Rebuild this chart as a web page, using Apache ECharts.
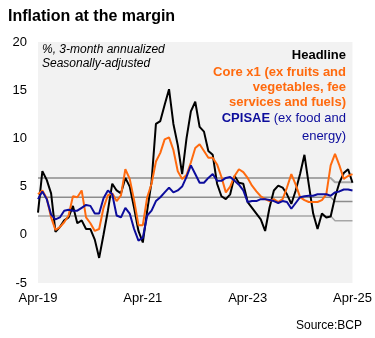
<!DOCTYPE html>
<html>
<head>
<meta charset="utf-8">
<script src="https://cdn.jsdelivr.net/npm/echarts@6/dist/echarts.min.js"></script>
<style>
html,body{margin:0;padding:0;background:#fff;}
#chart{width:375px;height:338px;}
</style>
</head>
<body>
<div id="chart"></div>
<script>
// Monthly, Apr-19 .. Apr-25
const monthNames = ["Jan","Feb","Mar","Apr","May","Jun","Jul","Aug","Sep","Oct","Nov","Dec"];
const categories = [];
for (let k = 0; k < 73; k++) {
  const m = (3 + k) % 12;
  const y = 19 + Math.floor((3 + k) / 12);
  categories.push(monthNames[m] + "-" + y);
}
const tickLabels = ["Apr-19", "Apr-21", "Apr-23", "Apr-25"];
const yTicks = [-5, 0, 5, 10, 15, 20];

const headline = [2.3,6.6,5.7,4.3,0.3,0.8,1.5,1.8,3.0,1.2,1.5,0.6,0.6,-0.5,-2.4,0.0,2.5,5.3,4.6,4.3,
  5.9,5.0,2.8,0.4,-0.8,2.5,5.5,11.5,11.8,13.5,15.1,11.5,9.3,6.3,10.0,12.8,13.8,11.2,10.7,8.7,
  8.3,5.3,4.0,3.7,4.2,6.1,5.4,5.3,3.4,2.8,2.2,1.6,0.4,2.8,4.6,5.1,4.9,4.2,3.2,4.6,
  6.3,8.3,5.2,2.2,0.6,2.2,1.8,1.9,3.9,5.4,6.4,6.8,5.4];
const coreX1 = [4.2,4.6,3.8,1.8,0.5,0.8,1.3,2.0,4.0,3.9,4.6,1.8,1.2,0.4,0.6,2.8,4.1,4.3,3.5,4.1,
  6.8,5.8,3.6,1.0,1.0,3.9,5.3,7.6,8.5,9.9,10.1,8.8,6.6,5.8,6.2,7.5,9.0,9.4,8.7,8.0,
  8.0,7.3,6.0,4.4,5.0,6.1,6.8,6.5,5.9,5.1,4.5,4.0,3.7,3.5,3.7,3.4,3.7,4.9,6.3,5.2,
  3.9,3.6,3.4,3.4,3.4,3.6,4.2,7.2,8.4,7.2,5.8,6.1,6.3];
const cpisae = [3.7,4.5,3.7,2.1,1.6,1.8,2.5,2.6,2.5,2.5,2.8,3.1,3.0,2.2,2.2,3.8,4.6,4.2,2.0,1.8,
  2.8,2.2,0.6,-0.6,-0.3,2.0,2.5,3.5,3.9,4.4,4.9,4.4,4.6,5.0,6.0,7.2,6.3,5.4,5.4,5.9,
  6.3,5.6,5.6,5.9,6.0,5.6,5.2,4.6,3.4,3.5,3.5,3.7,3.7,3.6,3.5,3.3,3.5,3.4,2.7,3.3,
  3.9,4.0,4.05,4.05,4.2,4.2,4.2,4.05,4.4,4.5,4.7,4.7,4.6];
// reference band lines (upper / middle / lower), level change late 2024
const bandUpperLevels = [5.9, 5.45];
const bandMidLevels = [3.9, 3.45];
const bandLowerLevels = [1.95, 1.45];
const bandChangeIndex = 68;

function band(levels) {
  return categories.map((c, k) => k < bandChangeIndex ? levels[0] : levels[1]);
}

const chart = echarts.init(document.getElementById('chart'), null, {renderer: 'canvas'});
const FONT = '"Liberation Sans", Arial, sans-serif';
const ORANGE = '#ff6a0e';
const BLUE = '#0d0d9c';

function lineSeries(name, data, color, width, z) {
  return {
    name, type: 'line', data, symbol: 'none', smooth: false, z,
    lineStyle: {color, width}, itemStyle: {color}, silent: true, animation: false
  };
}

const legendLines = [
  {text: 'Headline', color: '#000', top: 49},
  {text: 'Core x1 (ex fruits and', color: ORANGE, top: 65.5},
  {text: 'vegetables, fee', color: ORANGE, top: 80.5},
  {text: 'services and fuels)', color: ORANGE, top: 95.5}
];

const graphics = [
  {type: 'text', left: 8, top: 9, style: {text: 'Inflation at the margin', font: 'bold 16px ' + FONT, fill: '#000'}},
  {type: 'text', left: 42, top: 43, style: {text: '%, 3-month annualized\nSeasonally-adjusted', font: 'italic 12px ' + FONT, fill: '#000', lineHeight: 14}},
  {type: 'text', right: 13, top: 320, style: {text: 'Source:BCP', font: '12px ' + FONT, fill: '#000'}},
  {type: 'text', right: 29, top: 112, style: {
    text: '{b|CPISAE} {r|(ex food and}',
    rich: {
      b: {fontFamily: FONT, fontWeight: 'bold', fontSize: 13, fill: BLUE},
      r: {fontFamily: FONT, fontWeight: 'normal', fontSize: 13, fill: BLUE}
    },
    font: '13px ' + FONT, fill: BLUE
  }},
  {type: 'text', right: 29, top: 130, style: {text: 'energy)', font: '13px ' + FONT, fill: BLUE}}
];
legendLines.forEach(l => graphics.push({
  type: 'text', right: 29, top: l.top,
  style: {text: l.text, font: 'bold 13px ' + FONT, fill: l.color}
}));

chart.setOption({
  animation: false,
  backgroundColor: '#ffffff',
  textStyle: {fontFamily: FONT},
  grid: {left: 38, right: 21, top: 42, bottom: 55, show: true, backgroundColor: '#f2f2f2', borderWidth: 0},
  xAxis: {
    type: 'category', data: categories, boundaryGap: false,
    axisLine: {show: false}, axisTick: {show: false}, splitLine: {show: false},
    axisLabel: {
      interval: (idx, val) => tickLabels.includes(val),
      color: '#000', fontSize: 13, fontFamily: FONT, margin: 9
    }
  },
  yAxis: {
    type: 'value', min: yTicks[0], max: yTicks[yTicks.length - 1], interval: 5,
    axisLine: {show: false}, axisTick: {show: false}, splitLine: {show: false},
    axisLabel: {color: '#000', fontSize: 13, fontFamily: FONT, margin: 11}
  },
  series: [
    lineSeries('upper', band(bandUpperLevels), '#a6a6a6', 2, 1),
    lineSeries('mid', band(bandMidLevels), '#8c8c8c', 1.5, 1),
    lineSeries('lower', band(bandLowerLevels), '#a6a6a6', 1.5, 1),
    lineSeries('Headline', headline, '#000000', 2, 3),
    lineSeries('Core x1', coreX1, ORANGE, 2, 4),
    lineSeries('CPISAE', cpisae, BLUE, 2, 5)
  ],
  graphic: graphics
});
</script>
</body>
</html>
